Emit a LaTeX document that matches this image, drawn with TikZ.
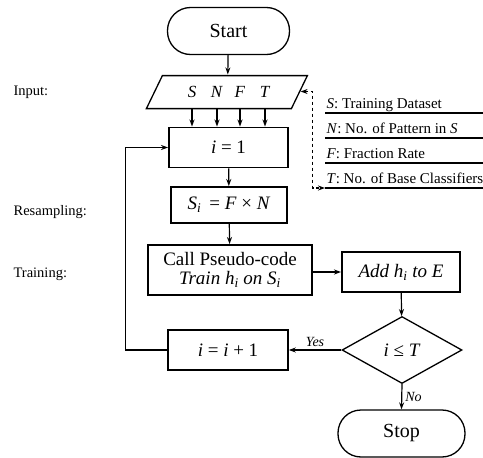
\documentclass[tikz,border=0pt]{standalone}
\usepackage{fontspec}
\setmainfont{Liberation Serif}
\usetikzlibrary{shapes.geometric,arrows.meta,positioning}

\tikzset{
	block/.style={draw, line width=1.9pt, minimum height=40pt, inner sep=2pt, font=\fontsize{19}{21}\selectfont},
	term/.style={draw, line width=1.3pt, rounded corners=23pt, minimum height=47pt, font=\fontsize{20}{22}\selectfont},
	inbox/.style={minimum width=145pt, minimum height=33pt, inner sep=0pt},
	slant/.style={line width=1.3pt, line join=miter},
	letter/.style={font=\fontsize{17}{19}\selectfont, inner sep=0pt},
	side/.style={anchor=base west, inner sep=0pt, font=\fontsize{14.5}{16}\selectfont},
	legend/.style={anchor=base west, inner sep=0pt, font=\fontsize{15}{17}\selectfont},
	legline/.style={line width=1.8pt},
	yesno/.style={font=\fontsize{14}{16}\itshape\selectfont, inner sep=3pt},
	decision/.style={draw, diamond, line width=1.3pt, minimum width=120pt, minimum height=67pt, inner sep=0pt, font=\fontsize{19}{21}\selectfont}
}

\begin{document}
\begin{tikzpicture}[x=1pt, y=-1pt, line width=1.2pt, >={Stealth[length=7pt,width=5pt]}]
	\useasboundingbox (0,0) rectangle (483,458);
	% main column
	\node[term, minimum width=122pt] (start) at (228.5,31) {Start};
	\node[inbox] (input) at (227.5,91.5) {};
	\draw[slant] (input.south west) ++(-8,0) -- ++(16,-33) -- ++(145,0) -- ++(-16,33) -- cycle;
	\foreach \v/\x in {S/192,N/217,F/240,T/265}
		\node[letter] (v\v) at (\x,91.5) {\textit{\v}};
	\node[block, minimum width=119pt] (one) at (228.5,147.5) {\textit{i} = 1};
	\node[block, minimum width=116pt, minimum height=36pt] (resample) at (229,205) {\textit{S}\textsubscript{\textit{i}} \,= \textit{F} × \textit{N}};
	\node[block, minimum width=164pt, minimum height=50pt, align=center] (train) at (230,270)
		{Call Pseudo-code\\[-2pt] \textit{Train h\textsubscript{i} on S\textsubscript{i}}};
	\node[block, minimum width=118pt] (add) at (401,272) {\textit{Add h\textsubscript{i} to E}};
	\node[decision] (check) at (402,350) {\textit{i} ≤ \textit{T}};
	\node[block, minimum width=120pt, line width=1.6pt] (inc) at (228,350) {\textit{i} = \textit{i} + 1};
	\node[term, minimum width=127pt] (stop) at (401.5,433.5) {Stop};

	% stage labels
	\node[side] (lin) at (13,95) {Input:};
	\node[side] (lres) at (13,215) {Resampling:};
	\node[side] (ltrain) at (13,277) {Training:};

	% legend
	\foreach \t [count=\k] in {{\textit{S}: Training Dataset},{\textit{N}: No. of Pattern in \textit{S}},{\textit{F}: Fraction Rate},{\textit{T}: No. of Base Classifiers}}{
		\node[legend] (leg\k) at (326,83+25*\k) {\t};
		\path (leg\k.base west) ++(-1,5) coordinate (line\k);
		\draw[legline] (line\k) -- ++(160,0);
	}
	\draw[dashed, <->] (input.east) -- ++(12,0) |- (line4);

	% arrows
	\draw[->] (start) -- (input);
	\foreach \v in {S,N,F,T}
		\draw[->] (v\v |- input.south) -- (v\v |- one.north);
	\draw[->] (one) -- (resample);
	\draw[->] (resample) -- (train);
	\draw[->] (train.east |- add) -- (add.west);
	\draw[->] (add) -- (check);
	\draw[->] (check.west) -- node[above, yesno] {Yes} (inc.east);
	\draw[->] (check.south) -- node[right, yesno] {No} (stop.north);
	\draw[->] (inc.west) -- ++(-42,0) |- (one.west);
%\node (x) at (0,0) {};
\end{tikzpicture}
\end{document}
